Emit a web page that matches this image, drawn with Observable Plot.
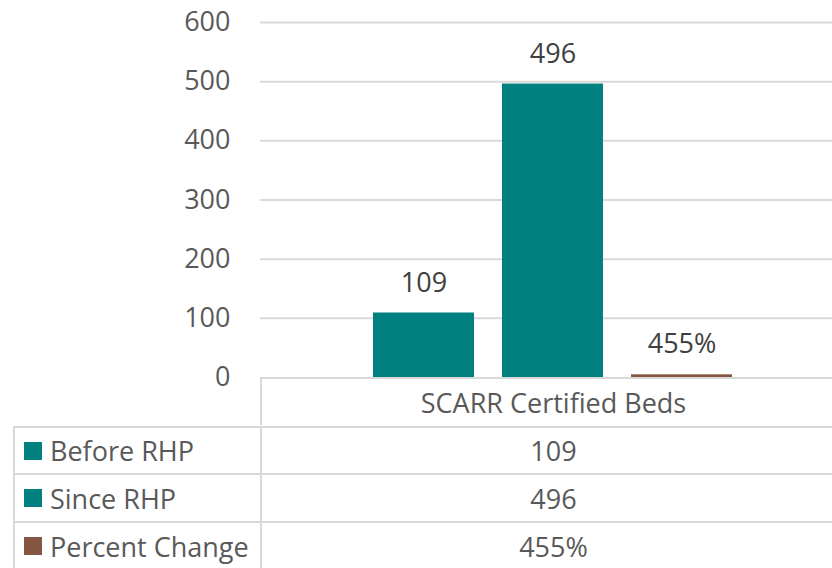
<!DOCTYPE html>
<html>
<head>
<meta charset="utf-8">
<script src="https://cdn.jsdelivr.net/npm/d3@7"></script>
<script src="https://cdn.jsdelivr.net/npm/@observablehq/plot@0.6"></script>
<style>
  html, body { margin: 0; padding: 0; background: #fff; overflow: hidden; }
  body { width: 832px; height: 568px; position: relative; font-family: "Open Sans", sans-serif; color: #595959; }
  #chart { position: absolute; left: 0; top: 0; z-index: 2; }
  #table { position: absolute; left: 0; top: 377px; width: 845px; z-index: 1; }
  .row { position: absolute; left: 0; height: 48px; width: 845px; }
  .cell { position: absolute; top: 0; height: 100%; box-sizing: border-box; display: flex; align-items: center; font-size: 27px; }
  .lab { left: 13px; width: 247px; border-left: 2px solid #d9d9d9; border-top: 2px solid #d9d9d9; padding-left: 9px; }
  .val { left: 260px; width: 585px; border-left: 2px solid #d9d9d9; border-top: 2px solid #d9d9d9; justify-content: center; }
  .sw { width: 18px; height: 18px; margin-right: 8px; flex: none; }
</style>
</head>
<body>
<div id="table"></div>
<div id="chart"></div>
<script>
const category = "SCARR Certified Beds";
const series = ["Before RHP", "Since RHP", "Percent Change"];
const values = [109, 496, 4.55];
const valueLabels = ["109", "496", "455%"];
const colors = ["#00817f", "#00817f", "#845540"];
const yTicks = [0, 100, 200, 300, 400, 500, 600];

const data = series.map((s, i) => ({series: s, value: values[i], label: valueLabels[i], color: colors[i]}));

const chart = Plot.plot({
  width: 832,
  height: 395,
  marginLeft: 260,
  marginRight: 0,
  marginTop: 22,
  marginBottom: 18,
  style: {fontFamily: "Open Sans, sans-serif", color: "#595959", background: "transparent"},
  x: {domain: series, paddingInner: 0.215, paddingOuter: 0.808, align: 0.53, axis: null},
  y: {domain: [0, 600], ticks: yTicks},
  marks: [
    Plot.gridY(yTicks.slice(1), {stroke: "#d9d9d9", strokeOpacity: 1, strokeWidth: 2}),
    Plot.axisY(yTicks, {tickSize: 0, tickPadding: 30, fontSize: 27, fill: "#595959", label: null, tickFormat: d => String(d)}),
    Plot.barY(data, {x: "series", y: "value", fill: "color"}),
    Plot.text(data, {x: "series", y: "value", text: "label", dy: -30, fontSize: 27, fill: "#404040"})
  ]
});
document.getElementById("chart").appendChild(chart);

// data table below the chart
const table = d3.select("#table");
const header = table.append("div").attr("class", "row").style("top", "0px");
header.append("div").attr("class", "cell val").text(category);

const rowTops = [49, 96, 144];
data.forEach((d, i) => {
  const r = table.append("div").attr("class", "row").style("top", rowTops[i] + "px").style("height", (i < 2 ? rowTops[i+1] - rowTops[i] : 48) + "px");
  const l = r.append("div").attr("class", "cell lab");
  l.append("div").attr("class", "sw").style("background", d.color);
  l.append("span").text(d.series);
  r.append("div").attr("class", "cell val").text(d.label);
});
</script>
</body>
</html>
